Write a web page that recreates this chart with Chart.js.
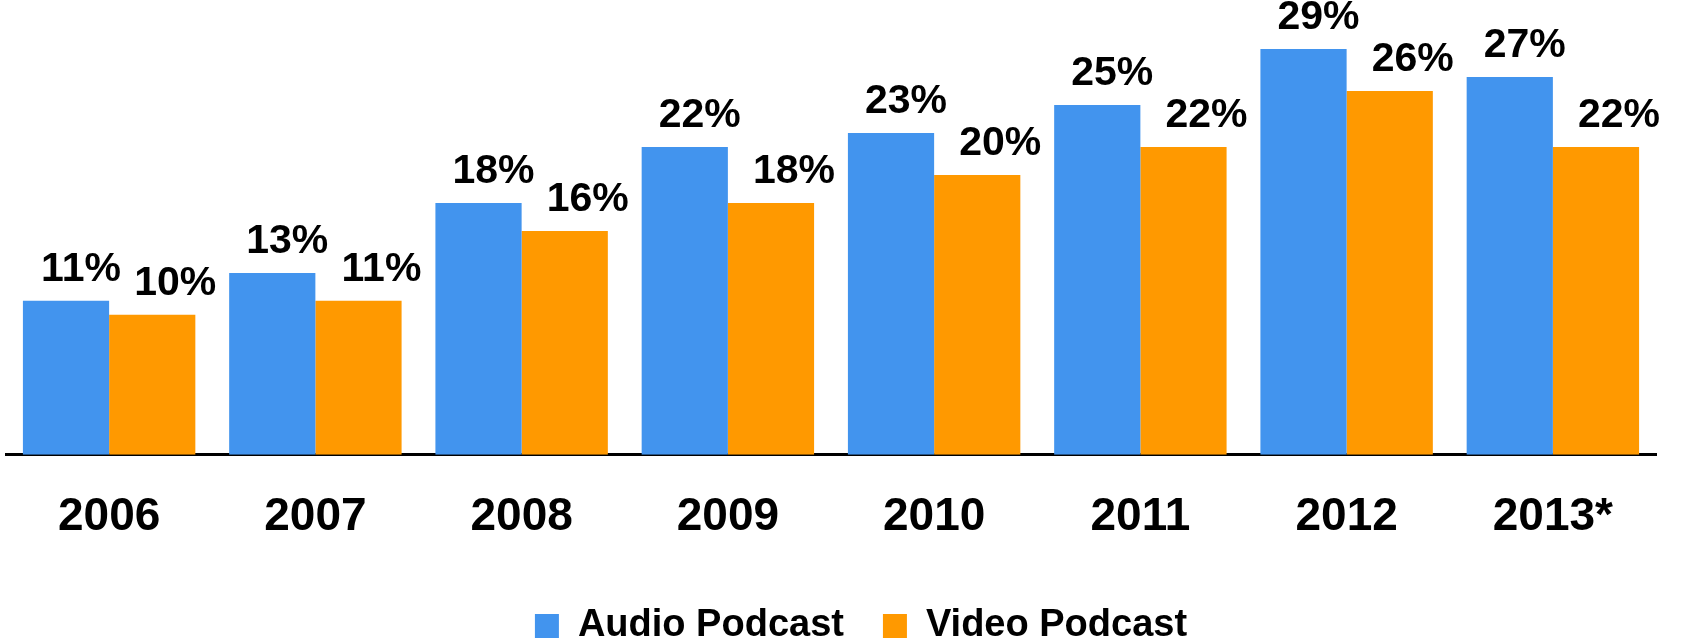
<!DOCTYPE html>
<html>
<head>
<meta charset="utf-8">
<script src="https://cdn.jsdelivr.net/npm/chart.js@4"></script>
<style>
  html, body { margin: 0; padding: 0; background: #fff; }
  #wrap { width: 1681px; height: 640px; }
</style>
</head>
<body>
<div id="wrap"><canvas id="podcastChart"></canvas></div>
<script>
// Podcast usage by year (percent)
const years = ['2006', '2007', '2008', '2009', '2010', '2011', '2012', '2013*'];
const audioPodcast = [11, 13, 18, 22, 23, 25, 29, 27];
const videoPodcast = [10, 11, 16, 18, 20, 22, 26, 22];
const seriesNames = ['Audio Podcast', 'Video Podcast'];

const FONT = '"Liberation Sans", Arial, sans-serif';

// value labels above each bar, nudged a bit to the right like the original
const labelShift = [15, 23];
const barLabels = {
  id: 'barLabels',
  afterDatasetsDraw(chart) {
    const ctx = chart.ctx;
    ctx.save();
    ctx.font = 'bold 41px ' + FONT;
    ctx.fillStyle = '#000';
    ctx.textAlign = 'center';
    ctx.textBaseline = 'alphabetic';
    chart.data.datasets.forEach((ds, i) => {
      chart.getDatasetMeta(i).data.forEach((bar, j) => {
        ctx.fillText(ds.data[j] + '%', bar.x + labelShift[i], bar.y - 20);
      });
    });
    ctx.restore();
  }
};

// legend sits a little right of centre and tight to the bottom edge
const legendShift = {
  id: 'legendShift',
  afterLayout(chart) {
    const lg = chart.legend;
    lg.left += 30; lg.right += 30;
    lg.top -= 12; lg.bottom -= 12;
  }
};

const ctx = document.getElementById('podcastChart').getContext('2d');
new Chart(ctx, {
  type: 'bar',
  data: {
    labels: years,
    datasets: [{
      label: seriesNames[0],
      data: audioPodcast,
      backgroundColor: '#4294ee',
      borderWidth: 0
    }, {
      label: seriesNames[1],
      data: videoPodcast,
      backgroundColor: '#ff9900',
      borderWidth: 0
    }]
  },
  options: {
    responsive: true,
    maintainAspectRatio: false,
    animation: false,
    layout: { padding: { top: 7, left: 6, right: 25, bottom: -27 } },
    datasets: { bar: { categoryPercentage: 0.836, barPercentage: 1.0 } },
    plugins: {
      legend: {
        position: 'bottom',
        labels: {
          boxWidth: 24,
          boxHeight: 24,
          padding: 39,
          color: '#000',
          font: { family: FONT, size: 38, weight: 'bold' }
        }
      },
      tooltip: { enabled: false }
    },
    scales: {
      x: {
        grid: { display: false, drawTicks: false },
        border: { display: true, color: '#000', width: 3 },
        ticks: {
          color: '#000',
          padding: 35,
          font: { family: FONT, size: 46, weight: 'bold' }
        }
      },
      y: {
        display: false,
        min: 0,
        max: 32
      }
    }
  },
  plugins: [barLabels, legendShift]
});
</script>
</body>
</html>
